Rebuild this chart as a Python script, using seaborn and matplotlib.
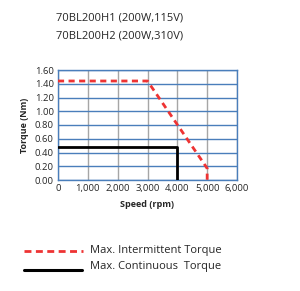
import pandas as pd
import matplotlib.pyplot as plt
import seaborn as sns

# curve data
inter_speed = [0, 3000, 5000, 5000]
inter_torque = [1.44, 1.44, 0.17, 0.0]
cont_speed = [0, 4000, 4000]
cont_torque = [0.48, 0.48, 0.0]

x_ticks = [0, 1000, 2000, 3000, 4000, 5000, 6000]
y_ticks = [0.0, 0.2, 0.4, 0.6, 0.8, 1.0, 1.2, 1.4, 1.6]
titles = ['70BL200H1 (200W,115V)', '70BL200H2 (200W,310V)']
labels = ['Max. Intermittent Torque', 'Max. Continuous  Torque']

df_inter = pd.DataFrame({'speed': inter_speed, 'torque': inter_torque})
df_cont = pd.DataFrame({'speed': cont_speed, 'torque': cont_torque})

sns.set_style('white')
plt.rcParams['font.family'] = ['Open Sans', 'DejaVu Sans']

fig = plt.figure(figsize=(3.0, 2.91), dpi=100)
ax = fig.add_axes([58 / 300, 1 - 180 / 291, 179 / 300, 110 / 291])

# gridlines: vertical gray, horizontal blue
for x in x_ticks:
    ax.axvline(x, color='#a6a6a6', lw=1.0, zorder=0)
for y in y_ticks:
    ax.axhline(y, color='#4a7ebb', lw=1.0, zorder=0)

sns.lineplot(data=df_cont, x='speed', y='torque', sort=False, estimator=None,
             color='black', lw=2.0, ax=ax, zorder=3)
sns.lineplot(data=df_inter, x='speed', y='torque', sort=False, estimator=None,
             color='#ee3333', lw=2.0, ax=ax, zorder=4)
ax.lines[-1].set_dashes([2.2, 1.6])

ax.set_xlim(0, 6000)
ax.set_ylim(0, 1.6)
ax.set_xticks(x_ticks)
ax.set_yticks(y_ticks)
ax.set_xticklabels([f'{v:,}' for v in x_ticks])
ax.set_yticklabels([f'{v:.2f}' for v in y_ticks])
ax.tick_params(labelsize=6.8, length=0, pad=3)
for s in ax.spines.values():
    s.set_color('#4a7ebb')
    s.set_linewidth(1.0)
ax.set_xlabel('Speed (rpm)', fontsize=6.5, fontweight='bold', labelpad=5)
ax.set_ylabel('Torque (Nm)', fontsize=6.5, fontweight='bold', labelpad=4)

fig.text(56 / 300, 1 - 18 / 291, titles[0], fontsize=8, va='center', ha='left')
fig.text(56 / 300, 1 - 36 / 291, titles[1], fontsize=8, va='center', ha='left')

# legend drawn below the chart
fig.lines.append(plt.Line2D([24 / 300, 83 / 300], [1 - 251 / 291] * 2,
                            transform=fig.transFigure, color='#ee3333',
                            lw=2.0, dashes=[2.5, 1.6]))
fig.lines.append(plt.Line2D([24 / 300, 82 / 300], [1 - 270 / 291] * 2,
                            transform=fig.transFigure, color='black', lw=2.2))
fig.text(90 / 300, 1 - 250 / 291, labels[0], fontsize=8, va='center', ha='left')
fig.text(90 / 300, 1 - 266 / 291, labels[1], fontsize=8, va='center', ha='left')

fig.savefig('out.png', dpi=100)
